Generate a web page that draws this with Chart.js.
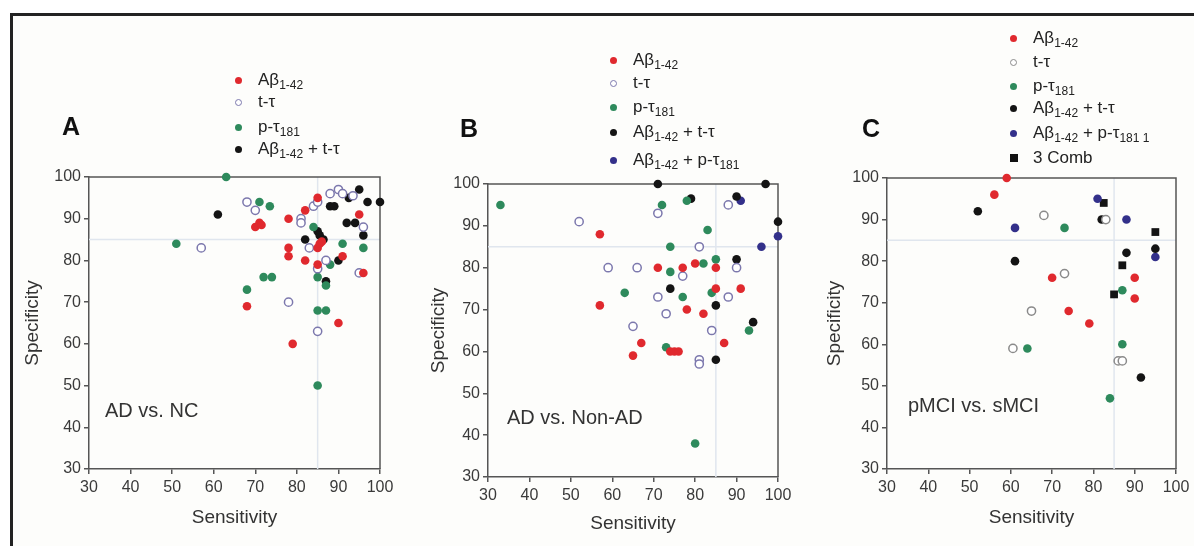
<!DOCTYPE html>
<html lang="en">
<head>
<meta charset="UTF-8">
<title>Sensitivity vs Specificity</title>
<script src="https://cdn.jsdelivr.net/npm/chart.js"></script>
<style>
  * { margin: 0; padding: 0; box-sizing: border-box; }
  body { width: 1194px; height: 546px; background: #fff; position: relative; overflow: hidden;
         font-family: 'Liberation Sans', Arial, sans-serif; color: #222; }
  .frame { position: absolute; left: 10px; top: 13px; right: 0; bottom: 0;
           border-top: 3px solid #222; border-left: 3px solid #222; background: #fdfdfb; }
  canvas { position: absolute; left: 0; top: 0; }
  .letter { position: absolute; font-weight: bold; font-size: 25px; line-height: 28px; color: #111; }
  .note { position: absolute; font-size: 20px; line-height: 22px; color: #333; }
  .row { position: absolute; font-size: 17px; line-height: 20px; white-space: nowrap; color: #222; }
  .dot { position: absolute; left: -23px; top: 6.5px; width: 7px; height: 7px; border-radius: 50%; }
  .sq { position: absolute; left: -23px; top: 6px; width: 8px; height: 8px; background: #111; }
  sub { font-size: 12px; vertical-align: -4px; line-height: 0; }
</style>
</head>
<body>
<div class="frame"></div>
<canvas id="chartA" width="1194" height="546"></canvas>
<canvas id="chartB" width="1194" height="546"></canvas>
<canvas id="chartC" width="1194" height="546"></canvas>

<div class="letter" style="left:62px;top:112px">A</div>
<div class="letter" style="left:460px;top:114px">B</div>
<div class="letter" style="left:862px;top:114px">C</div>

<div class="note" style="left:105px;top:399px">AD vs. NC</div>
<div class="note" style="left:507px;top:406px">AD vs. Non-AD</div>
<div class="note" style="left:908px;top:394px">pMCI vs. sMCI</div>

<!-- legend A -->
<div class="row" style="left:258px;top:70px"><span class="dot" style="background:#e0292e"></span>Aβ<sub>1-42</sub></div>
<div class="row" style="left:258px;top:92px"><span class="dot" style="border:1.3px solid #7c78ad;background:#fff"></span>t-τ</div>
<div class="row" style="left:258px;top:117px"><span class="dot" style="background:#2e8a5c"></span>p-τ<sub>181</sub></div>
<div class="row" style="left:258px;top:139px"><span class="dot" style="background:#141414"></span>Aβ<sub>1-42</sub> + t-τ</div>

<!-- legend B -->
<div class="row" style="left:633px;top:50px"><span class="dot" style="background:#e0292e"></span>Aβ<sub>1-42</sub></div>
<div class="row" style="left:633px;top:73px"><span class="dot" style="border:1.3px solid #7c78ad;background:#fff"></span>t-τ</div>
<div class="row" style="left:633px;top:97px"><span class="dot" style="background:#2e8a5c"></span>p-τ<sub>181</sub></div>
<div class="row" style="left:633px;top:122px"><span class="dot" style="background:#141414"></span>Aβ<sub>1-42</sub> + t-τ</div>
<div class="row" style="left:633px;top:150px"><span class="dot" style="background:#33308a"></span>Aβ<sub>1-42</sub> + p-τ<sub>181</sub></div>

<!-- legend C -->
<div class="row" style="left:1033px;top:28px"><span class="dot" style="background:#e0292e"></span>Aβ<sub>1-42</sub></div>
<div class="row" style="left:1033px;top:52px"><span class="dot" style="border:1.3px solid #8a8a8a;background:#fff"></span>t-τ</div>
<div class="row" style="left:1033px;top:76px"><span class="dot" style="background:#2e8a5c"></span>p-τ<sub>181</sub></div>
<div class="row" style="left:1033px;top:98px"><span class="dot" style="background:#141414"></span>Aβ<sub>1-42</sub> + t-τ</div>
<div class="row" style="left:1033px;top:123px"><span class="dot" style="background:#33308a"></span>Aβ<sub>1-42</sub> + p-τ<sub>181 1</sub></div>
<div class="row" style="left:1033px;top:148px"><span class="sq"></span>3 Comb</div>

<script>
// tick labels shared by all panels
const tickValues = [30, 40, 50, 60, 70, 80, 90, 100];
const cutoff = 85;

// panel A: AD vs. NC  [sensitivity, specificity]
const A_ab42 = [[68,69],[70,88],[71,89],[71.5,88.5],[78,90],[78,83],[78,81],[79,60],[82,92],[82,80],
  [85,95],[85,83],[85.5,84],[86,84.5],[85,79],[91,81],[90,65],[95,91],[96,77]];
const A_ttau = [[57,83],[68,94],[70,92],[78,70],[81,90],[81,89],[83,83],[84,93],[85,94],[85,63],
  [85,78],[87,80],[88,96],[90,97],[91,96],[93.5,95.5],[96,88],[95,77]];
const A_ptau = [[63,100],[51,84],[71,94],[73.5,93],[68,73],[72,76],[74,76],[84,88],[91,84],[96,83],
  [88,79],[85,76],[87,74],[85,68],[87,68],[85,50]];
const A_abTtau = [[61,91],[82,85],[85,87],[85.5,86],[86.4,85],[88,93],[89,93],[90,80],[92,89],[94,89],
  [92.5,95],[95,97],[97,94],[100,94],[96,86],[87,75]];

// panel B: AD vs. Non-AD
const B_ab42 = [[57,88],[57,71],[71,80],[77,80],[80,81],[85,80],[85,75],[91,75],[78,70],[82,69],
  [87,62],[67,62],[65,59],[74,60],[75,60],[76,60]];
const B_ttau = [[52,91],[59,80],[66,80],[71,93],[77,78],[81,85],[88,95],[90,80],[71,73],[88,73],
  [73,69],[65,66],[84,65],[81,58],[81,57]];
const B_ptau = [[33,95],[72,95],[78,96],[83,89],[74,85],[85,82],[82,81],[74,79],[63,74],[77,73],
  [84,74],[93,65],[73,61],[80,38]];
const B_abTtau = [[71,100],[97,100],[79,96.5],[90,97],[100,91],[90,82],[74,75],[85,71],[94,67],[85,58]];
const B_abPtau = [[91,96],[96,85],[100,87.5]];

// panel C: pMCI vs. sMCI
const C_ab42 = [[59,100],[56,96],[70,76],[74,68],[79,65],[90,76],[90,71]];
const C_ttau = [[68,91],[73,77],[65,68],[60.5,59],[83,90],[86,56],[87,56]];
const C_ptau = [[73,88],[64,59],[87,73],[87,60],[84,47]];
const C_abTtau = [[52,92],[61,80],[82,90],[88,82],[95,83],[91.5,52]];
const C_abPtau = [[61,88],[81,95],[88,90],[95,81]];
const C_comb3 = [[82.5,94],[95,87],[87,79],[85,72]];

const RED = '#e0292e', GREEN = '#2e8a5c', BLACK = '#141414', BLUE = '#33308a';
const AXIS = '#555', FONT = "'Liberation Sans', Arial, sans-serif";

const pts = arr => arr.map(([x, y]) => ({ x, y }));

function filled(label, arr, color) {
  return { label, data: pts(arr), backgroundColor: color, borderColor: color, borderWidth: 0,
           pointRadius: 4.3, pointStyle: 'circle', clip: false };
}
function open(label, arr, color) {
  return { label, data: pts(arr), backgroundColor: '#fff', borderColor: color, borderWidth: 1.5,
           pointRadius: 4.1, pointStyle: 'circle', clip: false };
}

// reference lines at the cut-off and the top/right frame
const framePlugin = {
  id: 'frame',
  beforeDatasetsDraw(chart) {
    const { ctx, chartArea: a, scales: { x, y } } = chart;
    const px = x.getPixelForValue(cutoff), py = y.getPixelForValue(cutoff);
    ctx.save();
    ctx.strokeStyle = '#e0e6ee';
    ctx.lineWidth = 1.5;
    ctx.beginPath();
    ctx.moveTo(px, a.top); ctx.lineTo(px, a.bottom);
    ctx.moveTo(a.left, py); ctx.lineTo(a.right, py);
    ctx.stroke();
    ctx.strokeStyle = AXIS;
    ctx.beginPath();
    ctx.moveTo(a.left, a.top); ctx.lineTo(a.right, a.top); ctx.lineTo(a.right, a.bottom);
    ctx.stroke();
    ctx.restore();
  }
};

// box: plot area in page pixels, plus where the axis titles sit
function makePanel(id, box, datasets) {
  const titleSize = 19;
  const half = titleSize * 1.2 / 2;
  const padLeft = box.yTitleX - half;
  const xBottom = box.xTitleY + half;
  const axis = (title) => ({
    type: 'linear', min: 30, max: 100,
    afterBuildTicks: s => { s.ticks = tickValues.map(v => ({ value: v })); },
    border: { color: AXIS, width: 1.5 },
    grid: { drawOnChartArea: false, tickLength: 5, color: AXIS, lineWidth: 1.5 },
    ticks: { color: '#3a3a3a', font: { size: 16, family: FONT }, padding: 4, maxRotation: 0, autoSkip: false },
    title: { display: true, text: title, color: '#333', font: { size: titleSize, family: FONT }, padding: 0 }
  });
  const x = axis('Sensitivity');
  x.afterFit = s => { s.height = xBottom - box.B; };
  const y = axis('Specificity');
  y.afterFit = s => { s.width = box.L - padLeft; };
  y.ticks.padding = 3;

  new Chart(document.getElementById(id), {
    type: 'scatter',
    data: { datasets },
    options: {
      responsive: false, animation: false, events: [],
      layout: { padding: { left: padLeft, top: box.T, right: 1194 - box.R, bottom: 546 - xBottom } },
      plugins: { legend: { display: false }, tooltip: { enabled: false } },
      scales: { x, y }
    },
    plugins: [framePlugin]
  });
}

makePanel('chartA', { L: 89, R: 380, T: 177, B: 469, yTitleX: 33, xTitleY: 518 }, [
  filled('Aβ1-42', A_ab42, RED),
  open('t-τ', A_ttau, '#7c78ad'),
  filled('p-τ181', A_ptau, GREEN),
  filled('Aβ1-42 + t-τ', A_abTtau, BLACK)
]);

makePanel('chartB', { L: 488, R: 778, T: 184, B: 477, yTitleX: 439, xTitleY: 524 }, [
  filled('Aβ1-42', B_ab42, RED),
  open('t-τ', B_ttau, '#7c78ad'),
  filled('p-τ181', B_ptau, GREEN),
  filled('Aβ1-42 + t-τ', B_abTtau, BLACK),
  filled('Aβ1-42 + p-τ181', B_abPtau, BLUE)
]);

makePanel('chartC', { L: 887, R: 1176, T: 178, B: 469, yTitleX: 835, xTitleY: 518 }, [
  filled('Aβ1-42', C_ab42, RED),
  open('t-τ', C_ttau, '#8a8a8a'),
  filled('p-τ181', C_ptau, GREEN),
  filled('Aβ1-42 + t-τ', C_abTtau, BLACK),
  filled('Aβ1-42 + p-τ181 1', C_abPtau, BLUE),
  { label: '3 Comb', data: pts(C_comb3), backgroundColor: BLACK, borderColor: BLACK, borderWidth: 0,
    pointRadius: 5.5, pointStyle: 'rect', clip: false }
]);
</script>
</body>
</html>
